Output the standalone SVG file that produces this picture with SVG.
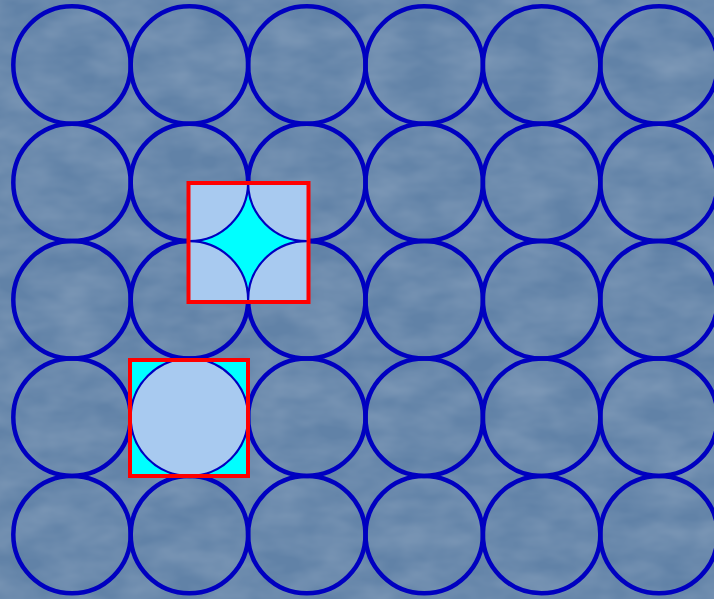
<svg xmlns="http://www.w3.org/2000/svg" width="714" height="599" viewBox="0 0 714 599">
  <style>
    .ring { fill: none; stroke: #0000C0; stroke-width: 4.5; }
    .inner { fill: #A8CAF0; stroke: #0000C0; stroke-width: 2.2; }
    .gap { fill: #00FFFF; }
    .frame { fill: none; stroke: #FF0000; stroke-width: 4; }
  </style>
  <defs>
    <filter id="tex" x="0" y="0" width="100%" height="100%">
      <feTurbulence type="fractalNoise" baseFrequency="0.02 0.04" numOctaves="3" seed="4" result="n"/>
      <feColorMatrix in="n" type="matrix" values="0 0 0 0 1  0 0 0 0 1  0 0 0 0 1  0 0 0 0.25 -0.06"/>
    </filter>
    <clipPath id="clip1"><rect x="188.5" y="183" width="120" height="119"/></clipPath>
    <clipPath id="clip2"><rect x="130" y="360" width="118" height="116"/></clipPath>
  </defs>
  <rect id="background" x="0" y="0" width="714" height="599" fill="#6182A7"/>
  <rect x="0" y="0" width="714" height="599" filter="url(#tex)"/>
  <g id="grid">
    <g id="row1">
      <circle class="ring" cx="72" cy="65" r="58.7"/>
      <circle class="ring" cx="189.4" cy="65" r="58.7"/>
      <circle class="ring" cx="306.8" cy="65" r="58.7"/>
      <circle class="ring" cx="424.2" cy="65" r="58.7"/>
      <circle class="ring" cx="541.6" cy="65" r="58.7"/>
      <circle class="ring" cx="659" cy="65" r="58.7"/>
    </g>
    <g id="row2">
      <circle class="ring" cx="72" cy="182.4" r="58.7"/>
      <circle class="ring" cx="189.4" cy="182.4" r="58.7"/>
      <circle class="ring" cx="306.8" cy="182.4" r="58.7"/>
      <circle class="ring" cx="424.2" cy="182.4" r="58.7"/>
      <circle class="ring" cx="541.6" cy="182.4" r="58.7"/>
      <circle class="ring" cx="659" cy="182.4" r="58.7"/>
    </g>
    <g id="row3">
      <circle class="ring" cx="72" cy="299.8" r="58.7"/>
      <circle class="ring" cx="189.4" cy="299.8" r="58.7"/>
      <circle class="ring" cx="306.8" cy="299.8" r="58.7"/>
      <circle class="ring" cx="424.2" cy="299.8" r="58.7"/>
      <circle class="ring" cx="541.6" cy="299.8" r="58.7"/>
      <circle class="ring" cx="659" cy="299.8" r="58.7"/>
    </g>
    <g id="row4">
      <circle class="ring" cx="72" cy="417.2" r="58.7"/>
      <circle class="ring" cx="189.4" cy="417.2" r="58.7"/>
      <circle class="ring" cx="306.8" cy="417.2" r="58.7"/>
      <circle class="ring" cx="424.2" cy="417.2" r="58.7"/>
      <circle class="ring" cx="541.6" cy="417.2" r="58.7"/>
      <circle class="ring" cx="659" cy="417.2" r="58.7"/>
    </g>
    <g id="row5">
      <circle class="ring" cx="72" cy="534.6" r="58.7"/>
      <circle class="ring" cx="189.4" cy="534.6" r="58.7"/>
      <circle class="ring" cx="306.8" cy="534.6" r="58.7"/>
      <circle class="ring" cx="424.2" cy="534.6" r="58.7"/>
      <circle class="ring" cx="541.6" cy="534.6" r="58.7"/>
      <circle class="ring" cx="659" cy="534.6" r="58.7"/>
    </g>
  </g>
  <g id="cell-gap">
    <g clip-path="url(#clip1)">
      <rect class="gap" x="188.5" y="183" width="120" height="119"/>
      <circle class="inner" cx="189.4" cy="182.4" r="58.7"/>
      <circle class="inner" cx="306.8" cy="182.4" r="58.7"/>
      <circle class="inner" cx="189.4" cy="299.8" r="58.7"/>
      <circle class="inner" cx="306.8" cy="299.8" r="58.7"/>
    </g>
    <rect class="frame" x="188.5" y="183" width="120" height="119"/>
  </g>
  <g id="cell-circle">
    <g clip-path="url(#clip2)">
      <rect class="gap" x="130" y="360" width="118" height="116"/>
      <circle class="inner" cx="189.4" cy="417.2" r="58.7"/>
    </g>
    <rect class="frame" x="130" y="360" width="118" height="116"/>
  </g>
</svg>
